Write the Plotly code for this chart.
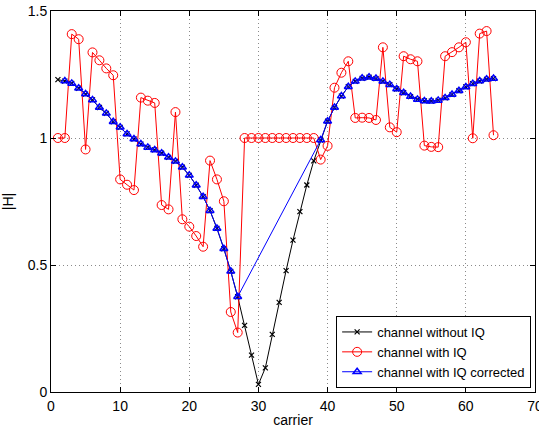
import plotly.graph_objects as go

# carriers
carrier_all = list(range(1, 65))
# channel without IQ (black) – carriers 1..64
h_noiq = [1.23, 1.224, 1.215, 1.196, 1.173, 1.15, 1.12, 1.097, 1.064, 1.042,
          1.016, 0.996, 0.976, 0.963, 0.953, 0.94, 0.924, 0.908, 0.885, 0.853,
          0.814, 0.769, 0.714, 0.644, 0.564, 0.475, 0.375, 0.262, 0.145, 0.03,
          0.095, 0.227, 0.353, 0.478, 0.598, 0.71, 0.815, 0.91, 0.992, 1.066,
          1.12, 1.165, 1.202, 1.223, 1.235, 1.239, 1.234, 1.223, 1.21, 1.193,
          1.178, 1.163, 1.152, 1.146, 1.145, 1.148, 1.158, 1.171, 1.186, 1.201,
          1.214, 1.224, 1.231, 1.234]
# channel with IQ (red) – carriers 1..64
h_iq = [1.0, 1.0, 1.409, 1.389, 0.955, 1.337, 1.306, 1.274, 1.247, 0.837,
        0.816, 0.795, 1.159, 1.147, 1.138, 0.736, 0.719, 1.102, 0.68, 0.651,
        0.614, 0.572, 0.911, 0.837, 0.751, 0.315, 0.234, 1.0, 1.0, 1.0,
        1.0, 1.0, 1.0, 1.0, 1.0, 1.0, 1.0, 1.0, 0.915, 0.969,
        1.198, 1.257, 1.302, 1.079, 1.08, 1.079, 1.071, 1.357, 1.042, 1.023,
        1.322, 1.31, 1.302, 0.97, 0.965, 0.964, 1.322, 1.338, 1.357, 1.377,
        0.999, 1.411, 1.421, 1.011]
# channel with IQ corrected (blue) – carriers 2..27 and 39..64
carrier_corr = list(range(2, 28)) + list(range(39, 65))
h_corr = [1.224, 1.215, 1.196, 1.173, 1.15, 1.12, 1.097, 1.064, 1.042,
          1.016, 0.996, 0.976, 0.963, 0.953, 0.94, 0.924, 0.908, 0.885, 0.853,
          0.814, 0.769, 0.714, 0.644, 0.564, 0.475, 0.375,
          0.992, 1.066,
          1.12, 1.165, 1.202, 1.223, 1.235, 1.239, 1.234, 1.223, 1.21, 1.193,
          1.178, 1.163, 1.152, 1.146, 1.145, 1.148, 1.158, 1.171, 1.186, 1.201,
          1.214, 1.224, 1.231, 1.234]

x_ticks = [0, 10, 20, 30, 40, 50, 60, 70]
y_ticks = [0, 0.5, 1, 1.5]
y_ticktext = ["0", "0.5", "1", "1.5"]

font = "Liberation Sans, Arial, Helvetica, sans-serif"

fig = go.Figure()
fig.add_trace(go.Scatter(
    x=carrier_all, y=h_noiq, mode="lines+markers", name="channel without IQ",
    line=dict(color="black", width=1),
    marker=dict(symbol="x-thin-open", size=5, color="black",
                line=dict(color="black", width=1.2))))
fig.add_trace(go.Scatter(
    x=carrier_all, y=h_iq, mode="lines+markers", name="channel with IQ",
    line=dict(color="red", width=1),
    marker=dict(symbol="circle-open", size=9, color="red",
                line=dict(color="red", width=1))))
fig.add_trace(go.Scatter(
    x=carrier_corr, y=h_corr, mode="lines+markers", name="channel with IQ corrected",
    line=dict(color="blue", width=1),
    marker=dict(symbol="triangle-up-open", size=7, color="blue",
                line=dict(color="blue", width=1.5))))

axis_common = dict(
    showline=True, linecolor="black", linewidth=1, mirror="ticks",
    ticks="inside", ticklen=5, tickcolor="black",
    showgrid=True, gridcolor="#8a8a8a", griddash="1px,3px", gridwidth=1,
    zeroline=False, automargin=False, ticklabeloverflow="allow",
    tickfont=dict(family=font, size=14, color="black"),
)

fig.update_xaxes(range=[0, 70], tickvals=x_ticks, ticklabelstandoff=1,
                 title=dict(text="carrier", font=dict(family=font, size=14, color="black"),
                            standoff=2),
                 **axis_common)
fig.update_yaxes(range=[0, 1.5], tickvals=y_ticks, ticktext=y_ticktext,
                 title=dict(text="|H|", font=dict(family=font, size=14, color="black"),
                            standoff=10),
                 **axis_common)

fig.update_layout(
    width=539, height=430,
    margin=dict(l=51, r=4, t=11, b=38),
    paper_bgcolor="white", plot_bgcolor="white",
    showlegend=True,
    legend=dict(x=0.992, y=0.0105, xanchor="right", yanchor="bottom",
                bgcolor="white", bordercolor="black", borderwidth=1,
                font=dict(family=font, size=13, color="black"),
                tracegroupgap=0, itemwidth=30),
)

fig.write_html("out.html", config={"displayModeBar": False},
               post_script="document.body.style.margin='0';document.body.style.overflow='hidden';")
